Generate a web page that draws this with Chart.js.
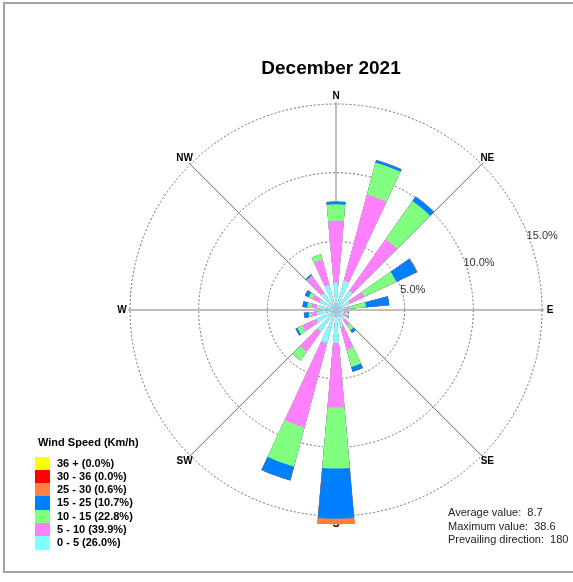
<!DOCTYPE html>
<html>
<head>
<title>December 2021</title>
<script src="https://cdn.jsdelivr.net/npm/chart.js"></script>
<style>
  body { margin: 0; background: #fff; font-family: "Liberation Sans", Arial, sans-serif; }
  #wrap { position: relative; width: 573px; height: 582px; overflow: hidden; }
  #frame { position: absolute; left: 3px; top: 2px; width: 620px; height: 567px; border: 2px solid #a3a3a3; }
  canvas { position: absolute; left: 0; top: 0; }
  #title { position: absolute; left: 181px; width: 300px; top: 57px; line-height: 22px;
           text-align: center; font-weight: bold; font-size: 19px; color: #000; }
  #legend { position: absolute; left: 35px; top: 436px; font-weight: bold; font-size: 11px; color: #000; }
  #legend .head { margin-left: 3px; line-height: 13px; height: 20.5px; }
  #legend .row { height: 13.33px; line-height: 13.33px; white-space: pre; }
  #legend .box { display: inline-block; width: 15px; height: 13.33px; vertical-align: top; margin-right: 7px; }
  #stats { position: absolute; left: 448px; top: 506px; font-size: 11px; line-height: 13.5px; color: #222; white-space: pre; }
</style>
</head>
<body>
<div id="wrap">
  <div id="frame"></div>
  <canvas id="rose" width="573" height="582"></canvas>
  <div id="title">December 2021</div>
  <div id="legend"></div>
  <div id="stats"></div>
</div>

<script>
// direction bins (degrees), 20 degree sectors
const directions = [0, 20, 40, 60, 80, 100, 120, 140, 160, 180, 200, 220, 240, 260, 280, 300, 320, 340];

// frequency (%) per speed class and direction
const speed0to5   = [2.0, 2.2, 1.7, 1.1, 0.7, 0.6, 0.6, 0.9, 1.3, 2.4, 2.5, 1.9, 1.55, 1.4, 1.4, 1.3, 1.5, 1.9];
const speed5to10  = [4.5, 6.5, 4.6, 1.2, 0.3, 0.2, 0.3, 0.5, 1.7, 4.7, 6.35, 1.8, 1.15, 0.4, 0.4, 0.6, 1.5, 1.9];
const speed10to15 = [1.2, 2.4, 3.4, 2.55, 1.2, 0.1, 0.1, 0.4, 1.3, 4.45, 2.95, 0.8, 0.4, 0.2, 0.3, 0.3, 0.05, 0.4];
const speed15to25 = [0.2, 0.2, 0.4, 1.65, 1.7, 0.05, 0.05, 0.25, 0.35, 3.65, 1.05, 0, 0.15, 0.35, 0.35, 0.3, 0.1, 0];
const speed25to30 = [0, 0, 0, 0.05, 0, 0, 0, 0, 0, 0.4, 0, 0, 0, 0, 0, 0, 0, 0];
const speed30to36 = [0, 0, 0, 0, 0, 0, 0, 0, 0, 0, 0, 0, 0, 0, 0, 0, 0, 0];
const speed36plus = [0, 0, 0, 0, 0, 0, 0, 0, 0, 0, 0, 0, 0, 0, 0, 0, 0, 0];

const speedLabels = ['0 - 5 (26.0%)', '5 - 10 (39.9%)', '10 - 15 (22.8%)', '15 - 25 (10.7%)',
                     '25 - 30 (0.6%)', '30 - 36 (0.0%)', '36 + (0.0%)'];
const ringValues = [5, 10, 15];
const compassLabels = ['N', 'NE', 'E', 'SE', 'S', 'SW', 'W', 'NW'];
const statLines = ['Average value:  8.7', 'Maximum value:  38.6', 'Prevailing direction:  180'];

const classColors = ['#80ffff', '#ff80ff', '#80ff80', '#0080ff', '#ff8040', '#ff0000', '#ffff00'];
const series = [speed0to5, speed5to10, speed10to15, speed15to25, speed25to30, speed30to36, speed36plus];

// stacked look: cumulative totals, smallest drawn on top; every other slot is an empty gap
let running = directions.map(() => 0);
const datasets = series.map((vals, k) => {
  running = running.map((v, i) => v + vals[i]);
  const data = [];
  running.forEach(v => { data.push(+v.toFixed(2)); data.push(0); });
  return { label: speedLabels[k], data: data, backgroundColor: classColors[k], borderWidth: 0, clip: false };
});
const labels = directions.flatMap(d => [d + '°', '']);

const FONT = '"Liberation Sans", Arial, sans-serif';

const compassPlugin = {
  id: 'compass',
  beforeDatasetsDraw(chart) {
    const r = chart.scales.r;
    const ctx = chart.ctx;
    const cx = r.xCenter, cy = r.yCenter, R = r.drawingArea;
    ctx.save();
    compassLabels.forEach((lab, i) => {
      const a = (i * 45 - 90) * Math.PI / 180;
      ctx.beginPath();
      ctx.moveTo(cx, cy);
      ctx.lineTo(cx + Math.cos(a) * (R + 2), cy + Math.sin(a) * (R + 2));
      ctx.strokeStyle = i % 2 ? '#555' : '#aaa';
      ctx.lineWidth = i % 2 ? 0.8 : 1.5;
      ctx.stroke();
      ctx.fillStyle = '#000';
      ctx.font = 'bold 10px ' + FONT;
      ctx.textAlign = 'center';
      ctx.textBaseline = 'middle';
      ctx.fillText(lab, cx + Math.cos(a) * (R + 8), cy + Math.sin(a) * (R + 8));
    });
    ringValues.forEach(v => {
      const d = r.getDistanceFromCenterForValue(v);
      const a = (67 - 90) * Math.PI / 180;
      ctx.font = '11px ' + FONT;
      ctx.fillStyle = '#333';
      ctx.textAlign = 'left';
      ctx.textBaseline = 'top';
      ctx.fillText(v.toFixed(1) + '%', cx + Math.cos(a) * d + 1, cy + Math.sin(a) * d + 1);
    });
    ctx.restore();
  }
};

new Chart(document.getElementById('rose'), {
  type: 'polarArea',
  data: { labels: labels, datasets: datasets },
  options: {
    responsive: false,
    animation: false,
    layout: { padding: { left: 130, right: 31, top: 104, bottom: 66 } },
    plugins: { legend: { display: false }, tooltip: { enabled: false } },
    scales: {
      r: {
        min: 0,
        max: 15,
        startAngle: -5,
        ticks: { display: false, stepSize: 5 },
        grid: { color: '#6a6a6a', lineWidth: 1 },
        border: { dash: [2, 2] },
        angleLines: { display: false },
        pointLabels: { display: false }
      }
    }
  },
  plugins: [compassPlugin]
});

// legend, top to bottom from the highest class
const legend = document.getElementById('legend');
legend.innerHTML = '<div class="head">Wind Speed (Km/h)</div>';
for (let k = series.length - 1; k >= 0; k--) {
  const row = document.createElement('div');
  row.className = 'row';
  row.innerHTML = '<span class="box" style="background:' + classColors[k] + '"></span>' + speedLabels[k];
  legend.appendChild(row);
}
document.getElementById('stats').textContent = statLines.join('\n');
</script>
</body>
</html>
